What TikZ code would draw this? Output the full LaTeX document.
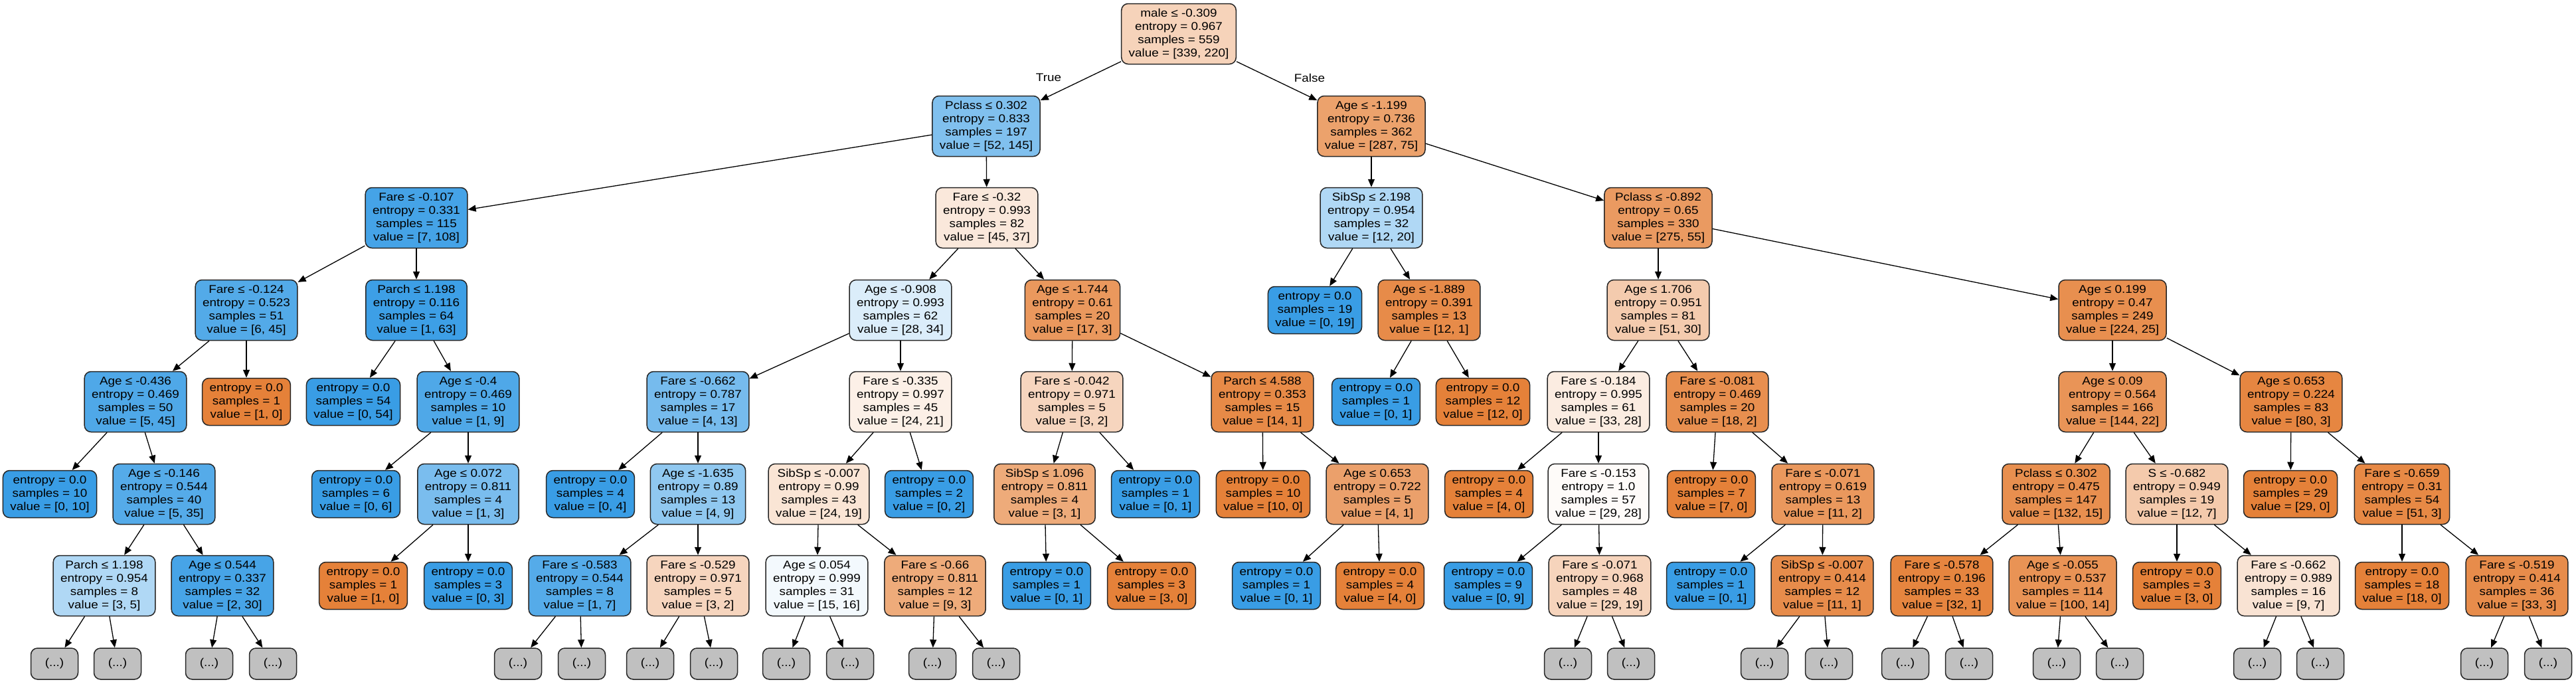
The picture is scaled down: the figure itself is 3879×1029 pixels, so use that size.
\documentclass[tikz,border=0pt]{standalone}
\usepackage{fontspec}
\setmainfont[FakeStretch=1.11]{Liberation Sans}
\usetikzlibrary{arrows.meta}
\definecolor{co}{RGB}{229,129,57}
\definecolor{cb}{RGB}{57,157,229}
\definecolor{cg}{RGB}{192,192,192}
\begin{document}
\begin{tikzpicture}[x=1pt,y=-1pt,
 box/.style={draw=black!85, line width=1.5pt, rounded corners=10pt, align=center, font=\fontsize{17}{20}\selectfont, inner xsep=11pt, inner ysep=0pt},
 dec/.style={box, minimum height=91pt},
 leaf/.style={box, minimum height=71pt},
 more/.style={box, fill=cg, minimum width=71pt, minimum height=47pt},
 edge/.style={line width=1.3pt, -{Triangle[length=12pt,width=10pt]}},
 lbl/.style={font=\fontsize{17}{20}\selectfont}]
\fill[white] (0,0) rectangle (3879,1029);
\useasboundingbox (0,0) rectangle (3879,1029);
% row 0
\node[dec, fill=co!35!white] (n0) at (1775,51) {male ≤ -0.309\\entropy = 0.967\\samples = 559\\value = [339, 220]};
% row 1
\node[dec, fill=cb!64!white] (n1) at (1485,190) {Pclass ≤ 0.302\\entropy = 0.833\\samples = 197\\value = [52, 145]};
\node[dec, fill=co!74!white] (n2) at (2065,190) {Age ≤ -1.199\\entropy = 0.736\\samples = 362\\value = [287, 75]};
% row 2
\node[dec, fill=cb!94!white] (n3) at (627,328) {Fare ≤ -0.107\\entropy = 0.331\\samples = 115\\value = [7, 108]};
\node[dec, fill=co!18!white] (n4) at (1486,328) {Fare ≤ -0.32\\entropy = 0.993\\samples = 82\\value = [45, 37]};
\node[dec, fill=cb!40!white] (n5) at (2065,328) {SibSp ≤ 2.198\\entropy = 0.954\\samples = 32\\value = [12, 20]};
\node[dec, fill=co!80!white] (n6) at (2497,328) {Pclass ≤ -0.892\\entropy = 0.65\\samples = 330\\value = [275, 55]};
% row 3
\node[dec, fill=cb!87!white] (n7) at (371,467) {Fare ≤ -0.124\\entropy = 0.523\\samples = 51\\value = [6, 45]};
\node[dec, fill=cb!98!white] (n8) at (627,467) {Parch ≤ 1.198\\entropy = 0.116\\samples = 64\\value = [1, 63]};
\node[dec, fill=cb!18!white] (n9) at (1356,467) {Age ≤ -0.908\\entropy = 0.993\\samples = 62\\value = [28, 34]};
\node[dec, fill=co!82!white] (n10) at (1615,467) {Age ≤ -1.744\\entropy = 0.61\\samples = 20\\value = [17, 3]};
\node[leaf, fill=cb] (n11) at (1980,467) {entropy = 0.0\\samples = 19\\value = [0, 19]};
\node[dec, fill=co!92!white] (n12) at (2152,467) {Age ≤ -1.889\\entropy = 0.391\\samples = 13\\value = [12, 1]};
\node[dec, fill=co!41!white] (n13) at (2497,467) {Age ≤ 1.706\\entropy = 0.951\\samples = 81\\value = [51, 30]};
\node[dec, fill=co!89!white] (n14) at (3181,467) {Age ≤ 0.199\\entropy = 0.47\\samples = 249\\value = [224, 25]};
% row 4
\node[dec, fill=cb!89!white] (n15) at (204,605) {Age ≤ -0.436\\entropy = 0.469\\samples = 50\\value = [5, 45]};
\node[leaf, fill=co] (n16) at (371,605) {entropy = 0.0\\samples = 1\\value = [1, 0]};
\node[leaf, fill=cb] (n17) at (532,605) {entropy = 0.0\\samples = 54\\value = [0, 54]};
\node[dec, fill=cb!89!white] (n18) at (705,605) {Age ≤ -0.4\\entropy = 0.469\\samples = 10\\value = [1, 9]};
\node[dec, fill=cb!69!white] (n19) at (1051,605) {Fare ≤ -0.662\\entropy = 0.787\\samples = 17\\value = [4, 13]};
\node[dec, fill=co!12!white] (n20) at (1356,605) {Fare ≤ -0.335\\entropy = 0.997\\samples = 45\\value = [24, 21]};
\node[dec, fill=co!33!white] (n21) at (1614,605) {Fare ≤ -0.042\\entropy = 0.971\\samples = 5\\value = [3, 2]};
\node[dec, fill=co!93!white] (n22) at (1901,605) {Parch ≤ 4.588\\entropy = 0.353\\samples = 15\\value = [14, 1]};
\node[leaf, fill=cb] (n23) at (2072,605) {entropy = 0.0\\samples = 1\\value = [0, 1]};
\node[leaf, fill=co] (n24) at (2233,605) {entropy = 0.0\\samples = 12\\value = [12, 0]};
\node[dec, fill=co!15!white] (n25) at (2407,605) {Fare ≤ -0.184\\entropy = 0.995\\samples = 61\\value = [33, 28]};
\node[dec, fill=co!89!white] (n26) at (2586,605) {Fare ≤ -0.081\\entropy = 0.469\\samples = 20\\value = [18, 2]};
\node[dec, fill=co!85!white] (n27) at (3181,605) {Age ≤ 0.09\\entropy = 0.564\\samples = 166\\value = [144, 22]};
\node[dec, fill=co!96!white] (n28) at (3450,605) {Age ≤ 0.653\\entropy = 0.224\\samples = 83\\value = [80, 3]};
% row 5
\node[leaf, fill=cb] (n29) at (75,744) {entropy = 0.0\\samples = 10\\value = [0, 10]};
\node[dec, fill=cb!86!white] (n30) at (247,744) {Age ≤ -0.146\\entropy = 0.544\\samples = 40\\value = [5, 35]};
\node[leaf, fill=cb] (n31) at (536,744) {entropy = 0.0\\samples = 6\\value = [0, 6]};
\node[dec, fill=cb!67!white] (n32) at (705,744) {Age ≤ 0.072\\entropy = 0.811\\samples = 4\\value = [1, 3]};
\node[leaf, fill=cb] (n33) at (889,744) {entropy = 0.0\\samples = 4\\value = [0, 4]};
\node[dec, fill=cb!56!white] (n34) at (1051,744) {Age ≤ -1.635\\entropy = 0.89\\samples = 13\\value = [4, 9]};
\node[dec, fill=co!21!white] (n35) at (1233,744) {SibSp ≤ -0.007\\entropy = 0.99\\samples = 43\\value = [24, 19]};
\node[leaf, fill=cb] (n36) at (1399,744) {entropy = 0.0\\samples = 2\\value = [0, 2]};
\node[dec, fill=co!67!white] (n37) at (1573,744) {SibSp ≤ 1.096\\entropy = 0.811\\samples = 4\\value = [3, 1]};
\node[leaf, fill=cb] (n38) at (1740,744) {entropy = 0.0\\samples = 1\\value = [0, 1]};
\node[leaf, fill=co] (n39) at (1902,744) {entropy = 0.0\\samples = 10\\value = [10, 0]};
\node[dec, fill=co!75!white] (n40) at (2074,744) {Age ≤ 0.653\\entropy = 0.722\\samples = 5\\value = [4, 1]};
\node[leaf, fill=co] (n41) at (2242,744) {entropy = 0.0\\samples = 4\\value = [4, 0]};
\node[dec, fill=co!3!white] (n42) at (2407,744) {Fare ≤ -0.153\\entropy = 1.0\\samples = 57\\value = [29, 28]};
\node[leaf, fill=co] (n43) at (2577,744) {entropy = 0.0\\samples = 7\\value = [7, 0]};
\node[dec, fill=co!82!white] (n44) at (2745,744) {Fare ≤ -0.071\\entropy = 0.619\\samples = 13\\value = [11, 2]};
\node[dec, fill=co!89!white] (n45) at (3096,744) {Pclass ≤ 0.302\\entropy = 0.475\\samples = 147\\value = [132, 15]};
\node[dec, fill=co!42!white] (n46) at (3278,744) {S ≤ -0.682\\entropy = 0.949\\samples = 19\\value = [12, 7]};
\node[leaf, fill=co] (n47) at (3449,744) {entropy = 0.0\\samples = 29\\value = [29, 0]};
\node[dec, fill=co!94!white] (n48) at (3617,744) {Fare ≤ -0.659\\entropy = 0.31\\samples = 54\\value = [51, 3]};
% row 6
\node[dec, fill=cb!40!white] (n49) at (157,882) {Parch ≤ 1.198\\entropy = 0.954\\samples = 8\\value = [3, 5]};
\node[dec, fill=cb!93!white] (n50) at (335,882) {Age ≤ 0.544\\entropy = 0.337\\samples = 32\\value = [2, 30]};
\node[leaf, fill=co] (n51) at (547,882) {entropy = 0.0\\samples = 1\\value = [1, 0]};
\node[leaf, fill=cb] (n52) at (705,882) {entropy = 0.0\\samples = 3\\value = [0, 3]};
\node[dec, fill=cb!86!white] (n53) at (873,882) {Fare ≤ -0.583\\entropy = 0.544\\samples = 8\\value = [1, 7]};
\node[dec, fill=co!33!white] (n54) at (1051,882) {Fare ≤ -0.529\\entropy = 0.971\\samples = 5\\value = [3, 2]};
\node[dec, fill=cb!6!white] (n55) at (1230,882) {Age ≤ 0.054\\entropy = 0.999\\samples = 31\\value = [15, 16]};
\node[dec, fill=co!67!white] (n56) at (1408,882) {Fare ≤ -0.66\\entropy = 0.811\\samples = 12\\value = [9, 3]};
\node[leaf, fill=cb] (n57) at (1576,882) {entropy = 0.0\\samples = 1\\value = [0, 1]};
\node[leaf, fill=co] (n58) at (1734,882) {entropy = 0.0\\samples = 3\\value = [3, 0]};
\node[leaf, fill=cb] (n59) at (1922,882) {entropy = 0.0\\samples = 1\\value = [0, 1]};
\node[leaf, fill=co] (n60) at (2078,882) {entropy = 0.0\\samples = 4\\value = [4, 0]};
\node[leaf, fill=cb] (n61) at (2241,882) {entropy = 0.0\\samples = 9\\value = [0, 9]};
\node[dec, fill=co!34!white] (n62) at (2409,882) {Fare ≤ -0.071\\entropy = 0.968\\samples = 48\\value = [29, 19]};
\node[leaf, fill=cb] (n63) at (2576,882) {entropy = 0.0\\samples = 1\\value = [0, 1]};
\node[dec, fill=co!91!white] (n64) at (2744,882) {SibSp ≤ -0.007\\entropy = 0.414\\samples = 12\\value = [11, 1]};
\node[dec, fill=co!97!white] (n65) at (2924,882) {Fare ≤ -0.578\\entropy = 0.196\\samples = 33\\value = [32, 1]};
\node[dec, fill=co!86!white] (n66) at (3106,882) {Age ≤ -0.055\\entropy = 0.537\\samples = 114\\value = [100, 14]};
\node[leaf, fill=co] (n67) at (3278,882) {entropy = 0.0\\samples = 3\\value = [3, 0]};
\node[dec, fill=co!22!white] (n68) at (3446,882) {Fare ≤ -0.662\\entropy = 0.989\\samples = 16\\value = [9, 7]};
\node[leaf, fill=co] (n69) at (3617,882) {entropy = 0.0\\samples = 18\\value = [18, 0]};
\node[dec, fill=co!91!white] (n70) at (3790,882) {Fare ≤ -0.519\\entropy = 0.414\\samples = 36\\value = [33, 3]};
% row 7 (truncated)
\foreach \name/\xx in {g1/82, g2/177, g3/315, g4/411, g5/780, g6/876, g7/979, g8/1075, g9/1184, g10/1280, g11/1404, g12/1500, g13/2361, g14/2456, g15/2657, g16/2754, g17/2869, g18/2965, g19/3097, g20/3192, g21/3399, g22/3494, g23/3741, g24/3837}
  \node[more] (\name) at (\xx,999.5) {(...)};
% edges
\foreach \a/\b in {n0/n1, n0/n2, n1/n3, n1/n4, n2/n5, n2/n6, n3/n7, n3/n8, n4/n9, n4/n10, n5/n11, n5/n12, n6/n13, n6/n14,
  n7/n15, n7/n16, n8/n17, n8/n18, n9/n19, n9/n20, n10/n21, n10/n22, n12/n23, n12/n24, n13/n25, n13/n26, n14/n27, n14/n28,
  n15/n29, n15/n30, n18/n31, n18/n32, n19/n33, n19/n34, n20/n35, n20/n36, n21/n37, n21/n38, n22/n39, n22/n40,
  n25/n41, n25/n42, n26/n43, n26/n44, n27/n45, n27/n46, n28/n47, n28/n48,
  n30/n49, n30/n50, n32/n51, n32/n52, n34/n53, n34/n54, n35/n55, n35/n56, n37/n57, n37/n58, n40/n59, n40/n60,
  n42/n61, n42/n62, n44/n63, n44/n64, n45/n65, n45/n66, n46/n67, n46/n68, n48/n69, n48/n70,
  n49/g1, n49/g2, n50/g3, n50/g4, n53/g5, n53/g6, n54/g7, n54/g8, n55/g9, n55/g10, n56/g11, n56/g12,
  n62/g13, n62/g14, n64/g15, n64/g16, n65/g17, n65/g18, n66/g19, n66/g20, n68/g21, n68/g22, n70/g23, n70/g24}
  \draw[edge] (\a) -- (\b);
\node[lbl] (ltrue) at (1579,117) {True};
\node[lbl] (lfalse) at (1972,117) {False};
\end{tikzpicture}
\end{document}
